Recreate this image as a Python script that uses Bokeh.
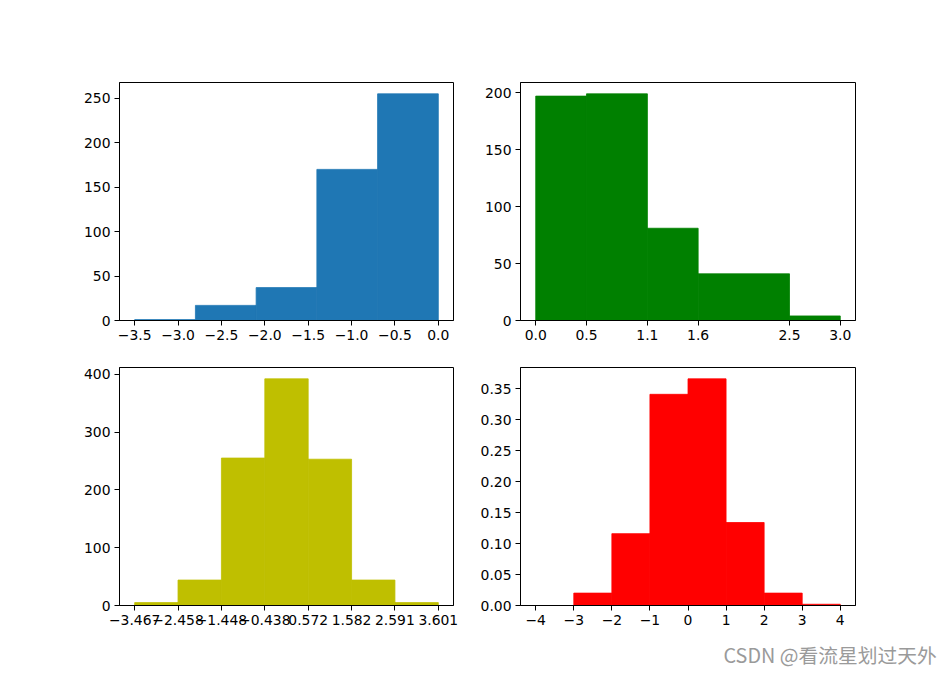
from bokeh.plotting import figure
from bokeh.models import Range1d, FixedTicker, Title
from bokeh.layouts import column, row
from bokeh.embed import file_html
from bokeh.resources import INLINE

# ---- data ----
neg_edges = [-3.5, -2.8, -2.1, -1.4, -0.7, 0.0]
neg_counts = [1, 17, 37, 170, 255]
neg_xticks = [-3.5, -3.0, -2.5, -2.0, -1.5, -1.0, -0.5, 0.0]
neg_xlabels = ["−3.5", "−3.0", "−2.5", "−2.0", "−1.5", "−1.0", "−0.5", "0.0"]
neg_yticks = [0, 50, 100, 150, 200, 250]
neg_ylabels = ["0", "50", "100", "150", "200", "250"]

abs_edges = [0.0, 0.5, 1.1, 1.6, 2.5, 3.0]
abs_counts = [197, 199, 81, 41, 4]
abs_xticks = [0.0, 0.5, 1.1, 1.6, 2.5, 3.0]
abs_xlabels = ["0.0", "0.5", "1.1", "1.6", "2.5", "3.0"]
abs_yticks = [0, 50, 100, 150, 200]
abs_ylabels = ["0", "50", "100", "150", "200"]

norm_edges = [-3.467, -2.458, -1.448, -0.438, 0.572, 1.582, 2.591, 3.601]
norm_counts = [5, 44, 255, 392, 253, 44, 5]
norm_xticks = [-3.467, -2.458, -1.448, -0.438, 0.572, 1.582, 2.591, 3.601]
norm_xlabels = ["−3.467", "−2.458", "−1.448", "−0.438", "0.572", "1.582", "2.591", "3.601"]
norm_yticks = [0, 100, 200, 300, 400]
norm_ylabels = ["0", "100", "200", "300", "400"]

dens_edges = [-4, -3, -2, -1, 0, 1, 2, 3, 4]
dens_values = [0.0, 0.02, 0.116, 0.341, 0.366, 0.134, 0.02, 0.002]
dens_xticks = [-4, -3, -2, -1, 0, 1, 2, 3, 4]
dens_xlabels = ["−4", "−3", "−2", "−1", "0", "1", "2", "3", "4"]
dens_yticks = [0.0, 0.05, 0.10, 0.15, 0.20, 0.25, 0.30, 0.35]
dens_ylabels = ["0.00", "0.05", "0.10", "0.15", "0.20", "0.25", "0.30", "0.35"]

watermark = "CSDN @看流星划过天外"

FONT = "DejaVu Sans"
FSIZE = "13.9px"


def make(edges, heights, color, xticks, xlabels, yticks, ylabels,
         width, height, bl, br, bt, bb):
    span = edges[-1] - edges[0]
    xr = Range1d(edges[0] - 0.05 * span, edges[-1] + 0.05 * span)
    yr = Range1d(0, max(heights) * 1.05)
    p = figure(width=width, height=height, x_range=xr, y_range=yr,
               output_backend="svg", toolbar_location=None,
               min_border_left=bl, min_border_right=br,
               min_border_top=bt, min_border_bottom=bb)
    p.quad(left=edges[:-1], right=edges[1:], top=heights, bottom=0,
           fill_color=color, line_color=color, line_width=0.8,
           line_alpha=[1.0 if h > 0 else 0.0 for h in heights])
    p.grid.visible = False
    p.outline_line_color = "black"
    p.outline_line_width = 1
    p.background_fill_color = "white"
    p.border_fill_color = "white"
    for ax, ticks, labels in ((p.xaxis[0], xticks, xlabels), (p.yaxis[0], yticks, ylabels)):
        ax.ticker = FixedTicker(ticks=[float(t) for t in ticks])
        ax.major_label_overrides = {float(t): l for t, l in zip(ticks, labels)}
        ax.minor_tick_line_color = None
        ax.major_tick_in = 0
        ax.major_tick_out = 5
        ax.major_tick_line_color = "black"
        ax.axis_line_color = "black"
        ax.major_label_standoff = 4
        ax.major_label_text_font = FONT
        ax.major_label_text_font_size = FSIZE
        ax.major_label_text_color = "black"
    return p


f1 = make(neg_edges, neg_counts, "#1f77b4", neg_xticks, neg_xlabels, neg_yticks, neg_ylabels,
          463, 355, 119, 10, 82, 35)
f2 = make(abs_edges, abs_counts, "#008000", abs_xticks, abs_xlabels, abs_yticks, abs_ylabels,
          487, 355, 57, 95, 82, 35)
f3 = make(norm_edges, norm_counts, "#bfbf00", norm_xticks, norm_xlabels, norm_yticks, norm_ylabels,
          463, 325, 119, 10, 12, 75)
f4 = make(dens_edges, dens_values, "#ff0000", dens_xticks, dens_xlabels, dens_yticks, dens_ylabels,
          487, 325, 57, 95, 12, 75)

f4.add_layout(Title(text=watermark, align="left", offset=203, standoff=20,
                    text_font="Noto Sans CJK SC", text_font_size="19.8px",
                    text_font_style="normal", text_color="#9a9a9a"), "below")

layout = column(row(f1, f2), row(f3, f4))
open("out.html", "w").write(file_html(layout, INLINE))
